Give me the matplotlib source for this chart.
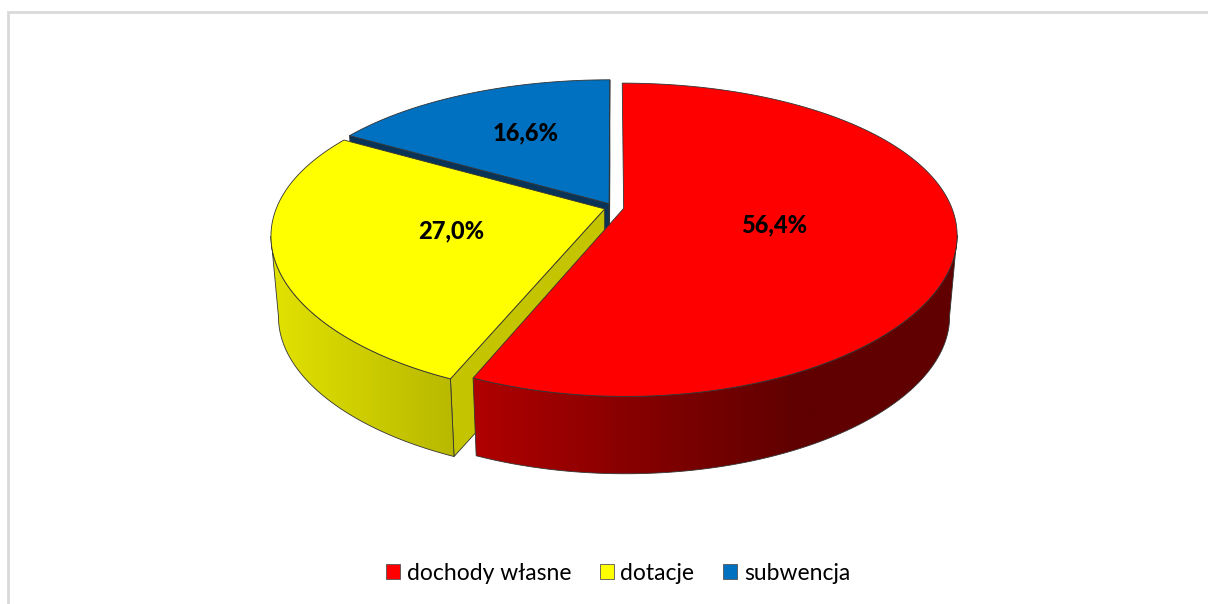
import numpy as np
import matplotlib
matplotlib.use('Agg')
import matplotlib.pyplot as plt
from matplotlib.patches import Polygon, Patch, Rectangle
from matplotlib.colors import LinearSegmentedColormap

labels = ['dochody własne', 'dotacje', 'subwencja']
values = [56.4, 27.0, 16.6]
top_colors = ['#ff0000', '#ffff00', '#0070c0']
wall_colors = [['#b00000', '#860000', '#600000', '#600000'],
               ['#e2e200', '#b8b800'],
               ['#0a3358', '#0a3358']]
inner_colors = [None, '#c4c400', '#0a3358']
label_radius = [0.46, 0.48, 0.56]
label_shift = [2, -2, -5]

# pie geometry in picture pixels
cx, cy = 614, 207.5
rx, ry = 328, 150
persp_x = 0.17
persp_y = 0.2
explode = 0.03
depth = 81.5
shrink = 0.978

plt.rcParams['font.family'] = ['Lato', 'DejaVu Sans']

fig = plt.figure(figsize=(12.08, 6.04), dpi=100)
ax = fig.add_axes([0, 0, 1, 1])
ax.set_xlim(0, 1208)
ax.set_ylim(604, 0)
ax.axis('off')

ax.add_patch(Rectangle((8, 12), 1400, 800, fc='white', ec='#d9d9d9', lw=2))


def project(u, v, low=False):
    x = rx * u / (1 - persp_x * v)
    y = ry * v / (1 - persp_y * v)
    if low:
        return cx + x * shrink, cy + depth + y * shrink
    return cx + x, cy + y


def wall(xy, colors, z):
    ax.add_patch(Polygon(xy, closed=True, fc='none', ec='#333333', lw=0.6, zorder=z + 0.1))
    x0, x1 = xy[:, 0].min(), xy[:, 0].max()
    y0, y1 = xy[:, 1].min(), xy[:, 1].max()
    cmap = LinearSegmentedColormap.from_list('w', colors)
    im = ax.imshow(np.linspace(0, 1, 256).reshape(1, -1), cmap=cmap, aspect='auto',
                   extent=[x0, x1, y1, y0], zorder=z)
    im.set_clip_path(Polygon(xy, closed=True, transform=ax.transData))


edges = np.cumsum([0] + values) * 3.6
for i in [2, 1, 0]:
    a0, a1 = edges[i], edges[i + 1]
    mid = np.radians((a0 + a1) / 2)
    off = (explode * np.sin(mid), -explode * np.cos(mid))
    z = (2 - i) * 10 + 1
    t = np.radians(np.linspace(a0, a1, 300))
    u, v = np.sin(t) + off[0], -np.cos(t) + off[1]

    # sides of the cut, seen only where the next slice leaves room
    if inner_colors[i]:
        for a in ([a0, a1] if i == 2 else [a0]):
            eu = off[0] + np.sin(np.radians(a))
            ev = off[1] - np.cos(np.radians(a))
            pts = [project(off[0], off[1]), project(eu, ev),
                   project(eu, ev, True), project(off[0], off[1], True)]
            ax.add_patch(Polygon(pts, closed=True, fc=inner_colors[i], ec='#333333',
                                 lw=0.6, zorder=z))

    # outer wall, only the part that faces the viewer
    front = -np.cos(t) >= persp_x
    if front.any():
        tx, ty = project(u[front], v[front])
        bx, by = project(u[front], v[front], True)
        outer = np.column_stack([np.r_[tx, bx[::-1]], np.r_[ty, by[::-1]]])
        wall(outer, wall_colors[i], z + 1)

    tx, ty = project(u, v)
    apex = project(off[0], off[1])
    top = np.column_stack([np.r_[tx, apex[0]], np.r_[ty, apex[1]]])
    ax.add_patch(Polygon(top, closed=True, fc=top_colors[i], ec='#333333', lw=0.6,
                         zorder=z + 2))

    r = label_radius[i]
    lx, ly = project(off[0] + r * np.sin(mid), off[1] - r * np.cos(mid))
    ax.text(lx, ly + label_shift[i], f'{values[i]:.1f}%'.replace('.', ','), ha='center',
            va='center', fontsize=17, fontweight=900, color='black', zorder=50)

ax.set_xlim(0, 1208)
ax.set_ylim(604, 0)

handles = [Patch(fc=c, ec='#555555', lw=0.6) for c in top_colors]
ax.legend(handles, labels, loc='center', bbox_to_anchor=(618 / 1208, 1 - 573 / 604),
          ncol=3, frameon=False, fontsize=16.5, handlelength=0.62, handleheight=0.62,
          handletextpad=0.28, columnspacing=1.25)

fig.savefig('out.png', dpi=100)
